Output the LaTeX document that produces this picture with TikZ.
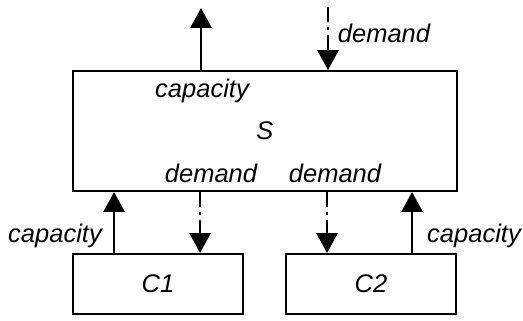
\documentclass[tikz,border=0pt]{standalone}
\usepackage{fontspec}
\setmainfont{Liberation Sans}
\usetikzlibrary{arrows.meta}
\begin{document}
\begin{tikzpicture}[x=1pt,y=-1pt,
  box/.style={draw=black,line width=1.9pt,rectangle,inner sep=0pt},
  lbl/.style={inner sep=0pt,font=\fontsize{25.5}{30}\selectfont\itshape},
  flowtip/.style={-{Triangle[width=21pt,length=20pt]}},
  capflow/.style={flowtip,line width=2.7pt},
  demflow/.style={flowtip,line width=2.7pt,dash pattern=on 15pt off 5pt on 3pt off 5pt}]
\useasboundingbox[fill=white] (0,0) rectangle (523,321);

% boxes
\node[box,minimum width=384pt,minimum height=120pt,lbl] (S) at (265,131) {S};
\node[box,minimum width=170pt,minimum height=60pt,lbl] (C1) at (158,284) {C1};
\node[box,minimum width=170pt,minimum height=60pt,lbl] (C2) at (371,284) {C2};

% free ends above S
\coordinate (capout) at (201,8);
\coordinate (dmdin) at (328,7);

% attachment points on C1 and C2
\coordinate (c1cap) at ([xshift=42pt]C1.north west);
\coordinate (c1dem) at ([xshift=128pt]C1.north west);
\coordinate (c2dem) at ([xshift=42pt]C2.north west);
\coordinate (c2cap) at ([xshift=127pt]C2.north west);

% connectors
\draw[capflow] (capout |- S.north) -- (capout);
\draw[demflow] (dmdin) -- (dmdin |- S.north);
\draw[capflow] (c1cap) -- (c1cap |- S.south);
\draw[demflow] (c1dem |- S.south) -- (c1dem);
\draw[demflow] (c2dem |- S.south) -- (c2dem);
\draw[capflow] (c2cap) -- (c2cap |- S.south);

% labels
\node[lbl] (lcapS) at (202,91) {capacity};
\node[lbl] (ldemtop) at (384,33) {demand};
\node[lbl] (ldem1) at (211,173) {demand};
\node[lbl] (ldem2) at (335,173) {demand};
\node[lbl] (lcap1) at (55,236) {capacity};
\node[lbl] (lcap2) at (474,236) {capacity};
\end{tikzpicture}
\end{document}
